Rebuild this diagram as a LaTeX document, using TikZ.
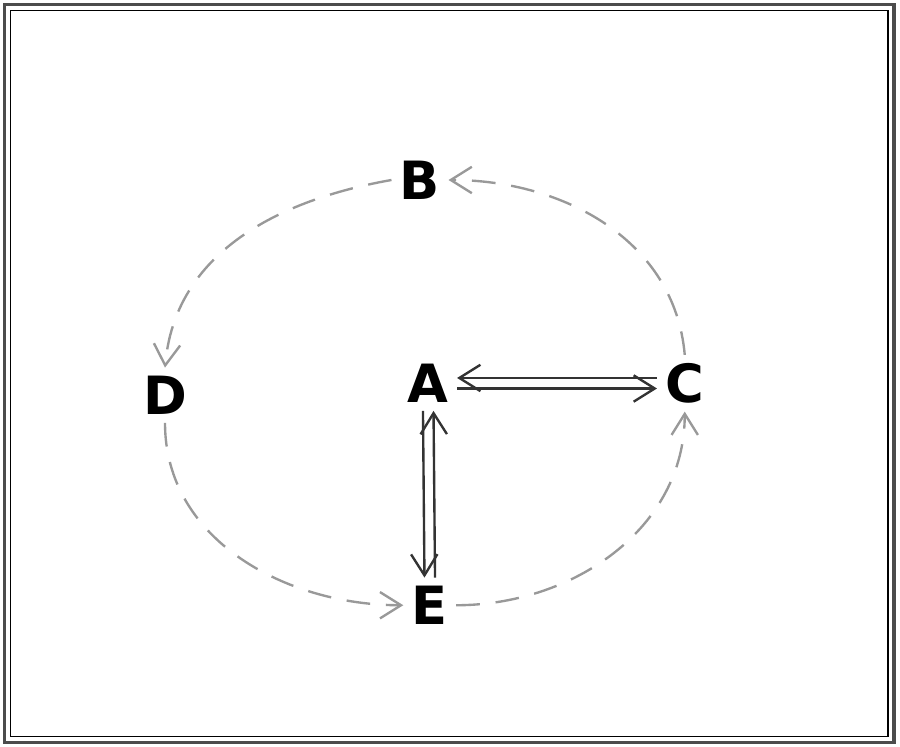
\documentclass[tikz,border=0pt]{standalone}
\usepackage{fontspec}
\setsansfont{DejaVu Sans}
\usetikzlibrary{arrows.meta}

\tikzset{
  vtx/.style={font=\sffamily\bfseries\fontsize{20}{20}\selectfont, inner sep=3pt},
  link/.style={-{Straight Barb[length=8pt,width=10pt]}, line width=0.9pt, black!80},
  loop/.style={link, dash pattern=on 9pt off 6pt, gray!80}
}

\begin{document}
\begin{tikzpicture}

\useasboundingbox (0,0) rectangle (12,9.96);

% frame
\draw [line width=1.3pt, gray!60!black] (0.06,0.06) rectangle (11.92,9.9);
\draw [line width=0.5pt] (0.14,0.14) rectangle (11.84,9.82);

% nodes
\node[vtx] (A) at (5.71,4.85) {A};
\node[vtx] (B) at (5.6,7.56) {B};
\node[vtx] (C) at (9.13,4.85) {C};
\node[vtx] (D) at (2.2,4.69) {D};
\node[vtx] (E) at (5.73,1.89) {E};

% solid pairs
\draw [link] ([yshift=2pt]C.west) -- ([yshift=2pt]A.east);
\draw [link] ([yshift=-2pt]A.east) -- ([yshift=-2pt]C.west);
\draw [link] ([xshift=-2pt]A.south) -- ([xshift=-2pt]E.north);
\draw [link] ([xshift=2pt]E.north) -- ([xshift=2pt]A.south);

% dashed ring
\draw [loop] (C.north) to [out=95,in=0] (B.east);
\draw [loop] (B.west) to [out=190,in=85] (D.north);
\draw [loop] (D.south) to [out=270,in=180] (E.west);
\draw [loop] (E.east) to [out=0,in=270] (C.south);

\end{tikzpicture}
\end{document}
